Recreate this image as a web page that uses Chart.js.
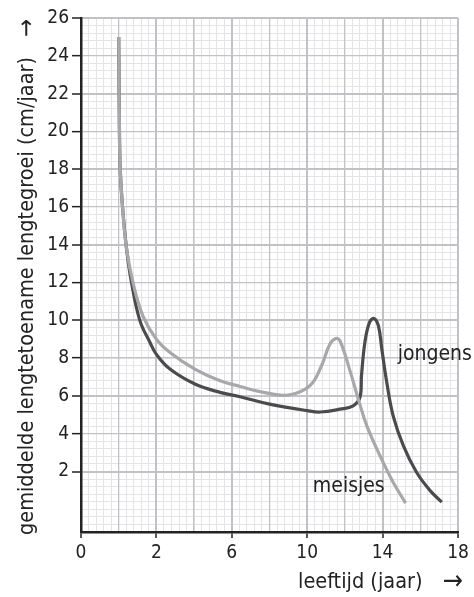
<!DOCTYPE html>
<html>
<head>
<meta charset="utf-8">
<script src="https://cdn.jsdelivr.net/npm/chart.js@4/dist/chart.umd.min.js"></script>
<style>
  html, body { margin: 0; padding: 0; background: #fff; }
  #wrap { width: 474px; height: 597px; }
</style>
</head>
<body>
<div id="wrap"><canvas id="chart"></canvas></div>
<script>
// leeftijd (jaar) and gemiddelde lengtegroei (cm/jaar)
const jongensAge = [1.0, 1.02, 1.04, 1.1, 1.21, 1.34, 1.56, 1.83, 2.0, 2.72, 4.04, 5.38, 6.44, 8.0, 10.0, 10.7, 11.74, 12.44, 12.8, 12.88, 13.06, 13.3, 13.54, 13.78, 13.96, 14.22, 14.56, 15.1, 15.8, 16.52, 17.14];
const jongensGroei = [25, 20, 18, 16.05, 13.76, 12.0, 10.0, 8.83, 8.2, 7.42, 6.63, 6.19, 5.96, 5.57, 5.22, 5.15, 5.3, 5.48, 5.93, 7.07, 8.83, 9.88, 10.1, 9.7, 8.47, 6.72, 4.95, 3.37, 1.96, 0.99, 0.38];

const meisjesAge = [1.0, 1.02, 1.04, 1.1, 1.21, 1.39, 1.65, 2.0, 2.72, 4.04, 5.38, 6.44, 7.68, 9.0, 10.14, 10.76, 11.2, 11.52, 11.74, 12.28, 12.72, 13.16, 13.86, 14.56, 15.22];
const meisjesGroei = [25, 20, 18, 16.05, 13.76, 11.9, 10.2, 9.0, 8.3, 7.42, 6.8, 6.5, 6.19, 6.05, 6.54, 7.6, 8.74, 9.04, 8.92, 7.3, 5.8, 4.43, 2.84, 1.43, 0.33];

// the x axis is not linear: 0-2 per year, after that 4 years per 2 grid cells
const xTickLabels = ['0', '2', '6', '10', '14', '18'];
const yTickLabels = [2, 4, 6, 8, 10, 12, 14, 16, 18, 20, 22, 24, 26];

const seriesNames = ['meisjes', 'jongens'];
const nameAge = [10.3, 14.8];
const nameGroei = [0.93, 7.9];

const FONT = "'DejaVu Sans Condensed', 'DejaVu Sans', sans-serif";
const DARK = '#4b4b4d';
const LIGHT = '#a8a8aa';

function agePos(a) {
    return a <= 2 ? a : 2 + (a - 2) / 2;
}

function toPoints(ages, values) {
    return ages.map((a, i) => ({ x: agePos(a), y: values[i] }));
}

const textPlugin = {
    id: 'texts',
    afterDraw(chart) {
        const ctx = chart.ctx;
        const xs = chart.scales.x;
        const ys = chart.scales.y;
        ctx.save();
        ctx.fillStyle = '#222';

        // series names
        ctx.font = '21px ' + FONT;
        ctx.textAlign = 'left';
        ctx.textBaseline = 'alphabetic';
        seriesNames.forEach((name, i) => {
            ctx.fillText(name, xs.getPixelForValue(agePos(nameAge[i])), ys.getPixelForValue(nameGroei[i]));
        });

        // x title
        ctx.font = '21.5px ' + FONT;
        ctx.fillText('leeftijd (jaar)', 298, 588);
        ctx.font = '27px ' + FONT;
        ctx.textAlign = 'center';
        ctx.fillText('\u2192', 453, 589);

        // y title, rotated
        const title = 'gemiddelde lengtetoename lengtegroei (cm/jaar)';
        ctx.font = '20px ' + FONT;
        const w = ctx.measureText(title).width;
        const size = 20 * 478 / w;
        ctx.translate(33, 535);
        ctx.rotate(-Math.PI / 2);
        ctx.font = size.toFixed(2) + 'px ' + FONT;
        ctx.textAlign = 'left';
        ctx.fillText(title, 0, 0);
        ctx.font = '24px ' + FONT;
        ctx.textAlign = 'center';
        ctx.fillText('\u2192', 507, 1);
        ctx.restore();
    }
};

new Chart(document.getElementById('chart'), {
    type: 'scatter',
    data: {
        datasets: [{
            label: 'meisjes',
            data: toPoints(meisjesAge, meisjesGroei),
            borderColor: LIGHT,
            order: 1
        }, {
            label: 'jongens',
            data: toPoints(jongensAge, jongensGroei),
            borderColor: DARK,
            order: 2
        }]
    },
    options: {
        responsive: true,
        maintainAspectRatio: false,
        animation: false,
        layout: { padding: { top: 18, right: 16, left: 0, bottom: 0 } },
        elements: {
            point: { radius: 0 },
            line: { borderWidth: 3.2, tension: 0.4, borderCapStyle: 'butt', borderJoinStyle: 'round' }
        },
        datasets: { scatter: { showLine: true } },
        plugins: { legend: { display: false }, tooltip: { enabled: false } },
        scales: {
            xMinor: {
                type: 'linear', position: 'bottom', min: 0, max: 10,
                ticks: { display: false, stepSize: 0.2 },
                grid: { color: '#e4e4e7', lineWidth: 1, drawTicks: false, z: -2 },
                border: { display: false },
                afterFit: s => { s.height = 0; }
            },
            yMinor: {
                type: 'linear', position: 'left', min: -1.2, max: 26,
                ticks: { display: false, stepSize: 0.4 },
                grid: { color: '#e4e4e7', lineWidth: 1, drawTicks: false, z: -2 },
                border: { display: false },
                afterFit: s => { s.width = 0; }
            },
            x: {
                type: 'linear', position: 'bottom', min: 0, max: 10,
                ticks: {
                    stepSize: 1, autoSkip: false, maxRotation: 0, padding: 4,
                    color: '#222', font: { family: FONT, size: 19 },
                    callback: v => (v % 2 === 0 ? xTickLabels[v / 2] : '')
                },
                grid: {
                    color: '#c2c2c6',
                    lineWidth: c => (c.tick && c.tick.value % 2 === 0 ? 2 : 1.3),
                    tickColor: c => (c.tick && c.tick.value % 2 === 0 ? '#222' : 'rgba(0,0,0,0)'),
                    tickWidth: 1.5, tickLength: 6, z: -1
                },
                border: { color: '#222', width: 2.5 },
                afterFit: s => { s.height = 65; }
            },
            y: {
                type: 'linear', position: 'left', min: -1.2, max: 26,
                ticks: {
                    stepSize: 2, autoSkip: false, padding: 3,
                    color: '#222', font: { family: FONT, size: 19 },
                    callback: v => (yTickLabels.includes(v) ? String(v) : '')
                },
                grid: {
                    color: c => (c.tick && c.tick.value > 0 ? '#c2c2c6' : 'rgba(0,0,0,0)'),
                    lineWidth: c => (c.tick && (c.tick.value - 2) % 4 === 0 ? 2 : 1.3),
                    tickColor: c => (c.tick && c.tick.value > 0 ? '#222' : 'rgba(0,0,0,0)'),
                    tickWidth: 1.5, tickLength: 9, z: -1
                },
                border: { color: '#222', width: 2.5 },
                afterFit: s => { s.width = 81; }
            }
        }
    },
    plugins: [textPlugin]
});
</script>
</body>
</html>
